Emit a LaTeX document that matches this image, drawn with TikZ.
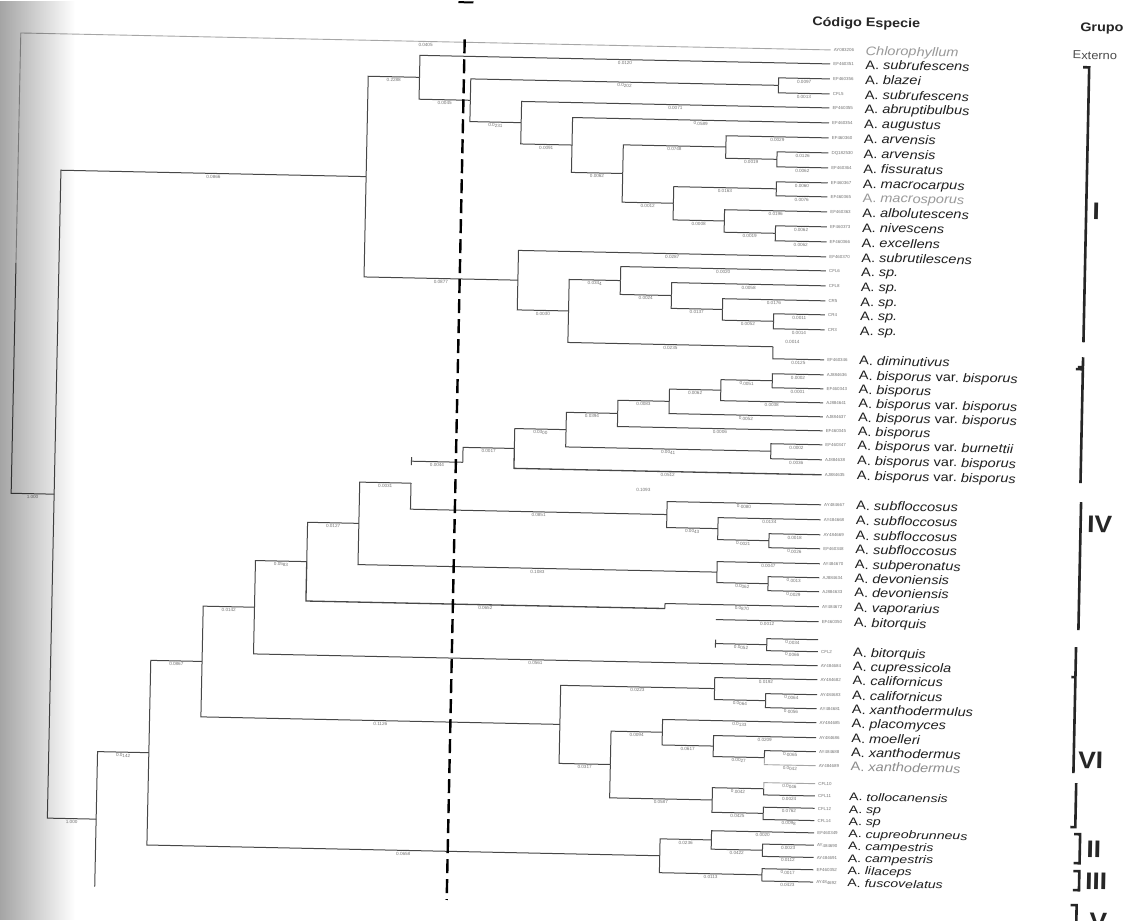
\documentclass[tikz,border=0pt]{standalone}
\usepackage{fontspec}
\setmainfont{Liberation Sans}
\usetikzlibrary{fadings}
\tikzset{
  br/.style={draw=black!72, line width=1pt},
  brl/.style={draw=black!35, line width=0.9pt},
  bl/.style={pos=0.75, below=0.8pt, font=\fontsize{4.6}{5}\selectfont, text=black!55, inner sep=0.4pt},
  bls/.style={pos=0.5, below=0.8pt, font=\fontsize{4.6}{5}\selectfont, text=black!55, inner sep=0.4pt},
  tiny/.style={font=\fontsize{4.6}{5}\selectfont, text=black!55, inner sep=0.4pt},
  code/.style={anchor=base west, font=\fontsize{4.4}{5}\selectfont, text=black!55, inner sep=0},
  spn/.style={anchor=base west, font=\fontsize{12.4}{14}\selectfont, xscale=1.17, text=black!88, inner sep=0},
  spns/.style={anchor=base west, font=\fontsize{11}{12}\selectfont, xscale=1.28, text=black!88, inner sep=0},
  hdr/.style={anchor=west, font=\bfseries\fontsize{12.5}{14}\selectfont, xscale=1.15, text=black!85, inner sep=0},
  ext/.style={anchor=west, font=\fontsize{11.5}{13}\selectfont, xscale=1.12, text=black!70, inner sep=0},
  grp/.style={font=\bfseries\fontsize{24}{26}\selectfont, xscale=1.1, text=black!85, inner sep=0},
  brk/.style={draw=black!85, line width=2.6pt},
  dashl/.style={draw=black, line width=2.4pt, dash pattern=on 14pt off 6pt},
}
\newcommand{\Ag}[1]{A.\ \textit{#1}}
\newcommand{\Agv}[2]{A.\ \textit{#1} var.\ \textit{#2}}
\newcommand{\myleaf}[4]{%
  \coordinate (#1) at (822,#2);
  \node[code] (#1c) at (825,{#2+1.6}) {#3};
  \node[spn] (#1s) at (857,{#2+4.4}) {#4};}
\newcommand{\myleafs}[4]{%
  \coordinate (#1) at (822,#2);
  \node[code] (#1c) at (825,{#2+1.6}) {#3};
  \node[spns] (#1s) at (856,{#2+4}) {#4};}
\newcommand{\mytip}[3]{%
  \coordinate (#1) at (822,#2);
  \node[code] (#1c) at (825,{#2+1.6}) {#3};}

\begin{document}
\begin{tikzpicture}[x=1pt,y=-1pt]
\useasboundingbox (0,0) rectangle (1131,920);
\fill[white] (0,0) rectangle (1131,920);

\begin{scope}[rotate around={-1.2:(830,460)}, transform shape]

% ---------------- headers ----------------
\node[hdr] (hcod) at (803,23) {Código Especie};
\node[hdr] (hgrp) at (1071,23) {Grupo};
\node[ext] (hext) at (1064,50) {Externo};

% ---------------- leaves ----------------
\myleaf{l1}{50}{AY083206}{\textcolor{black!40}{\textit{Chlorophyllum}}}
\myleaf{l2}{64}{EF460351}{\Ag{subrufescens}}
\myleaf{l3}{79}{EF460356}{\Ag{blazei}}
\myleaf{l4}{94}{CFL5}{\Ag{subrufescens}}
\myleaf{l5}{108}{EF460355}{\Ag{abruptibulbus}}
\myleaf{l6}{123}{EF460354}{\Ag{augustus}}
\myleaf{l7}{138}{EF460360}{\Ag{arvensis}}
\myleaf{l8}{153}{DQ182530}{\Ag{arvensis}}
\myleaf{l9}{168}{EF460364}{\Ag{fissuratus}}
\myleaf{l10}{183}{EF460367}{\Ag{macrocarpus}}
\myleaf{l11}{197}{EF460365}{\textcolor{black!40}{\Ag{macrosporus}}}
\myleaf{l12}{212}{EF460363}{\Ag{albolutescens}}
\myleaf{l13}{227}{EF460373}{\Ag{nivescens}}
\myleaf{l14}{242}{EF460366}{\Ag{excellens}}
\myleaf{l15}{257}{EF460370}{\Ag{subrutilescens}}
\myleaf{l16}{271}{CFL6}{\Ag{sp.}}
\myleaf{l17}{286}{CFL8}{\Ag{sp.}}
\myleaf{l18}{301}{CR5}{\Ag{sp.}}
\myleaf{l19}{315}{CR4}{\Ag{sp.}}
\myleaf{l20}{330}{CR3}{\Ag{sp.}}
\myleaf{l21}{360}{EF460346}{\Ag{diminutivus}}
\myleaf{l22}{375}{AJ884636}{\Agv{bisporus}{bisporus}}
\myleaf{l23}{389}{EF460343}{\Ag{bisporus}}
\myleaf{l24}{403}{AJ884641}{\Agv{bisporus}{bisporus}}
\myleaf{l25}{417}{AJ884637}{\Agv{bisporus}{bisporus}}
\myleaf{l26}{431}{EF460345}{\Ag{bisporus}}
\myleaf{l27}{445}{EF460347}{\Agv{bisporus}{burnettii}}
\myleaf{l28}{460}{AJ884638}{\Agv{bisporus}{bisporus}}
\myleaf{l29}{475}{AJ884635}{\Agv{bisporus}{bisporus}}
\myleaf{l30}{505}{AY484667}{\Ag{subfloccosus}}
\myleaf{l31}{520}{AY484668}{\Ag{subfloccosus}}
\myleaf{l32}{535}{AY484669}{\Ag{subfloccosus}}
\myleaf{l33}{549}{EF460348}{\Ag{subfloccosus}}
\myleaf{l34}{564}{AY484670}{\Ag{subperonatus}}
\myleaf{l35}{578}{AJ884634}{\Ag{devoniensis}}
\myleaf{l36}{592}{AJ884633}{\Ag{devoniensis}}
\myleaf{l37}{607}{AY484672}{\Ag{vaporarius}}
\myleaf{l38}{622}{EF460350}{\Ag{bitorquis}}
\mytip{lpt}{640}{}
\myleaf{l39}{652}{CFL2}{\Ag{bitorquis}}
\myleaf{l40}{666}{AY484684}{\Ag{cupressicola}}
\myleaf{l41}{680}{AY484682}{\Ag{californicus}}
\myleaf{l42}{695}{AY484683}{\Ag{californicus}}
\myleaf{l43}{709}{AY484681}{\Ag{xanthodermulus}}
\myleaf{l44}{723}{AY484685}{\Ag{placomyces}}
\myleaf{l45}{738}{AY484686}{\Ag{moelleri}}
\myleaf{l46}{752}{AY484688}{\Ag{xanthodermus}}
\myleaf{l47}{766}{AY484689}{\textcolor{black!45}{\Ag{xanthodermus}}}
\mytip{l48}{784}{CFL10}
\myleafs{l49}{796.3}{CFL11}{\Ag{tollocanensis}}
\myleafs{l50}{808.6}{CFL12}{\Ag{sp}}
\myleafs{l51}{820.9}{CFL14}{\Ag{sp}}
\myleafs{l52}{833.2}{EF460349}{\Ag{cupreobrunneus}}
\myleafs{l53}{845.5}{AY484690}{\Ag{campestris}}
\myleafs{l54}{857.8}{AY484691}{\Ag{campestris}}
\myleafs{l55}{870.1}{EF460352}{\Ag{lilaceps}}
\myleafs{l56}{882.4}{AY484692}{\Ag{fuscovelatus}}

% ---------------- internal nodes ----------------
\coordinate (root) at (12,280);
\coordinate (n62) at (55,510.45);
\coordinate (n365) at (360.3,186.4);
\coordinate (n422) at (411.6,86);
\coordinate (n472) at (462.9,107.9);
\coordinate (nab) at (770.7,86.5);
\coordinate (n522) at (514.2,129.2);
\coordinate (n572) at (565.5,150.5);
\coordinate (n622) at (616.8,177.9);
\coordinate (n725a) at (719.4,149.25);
\coordinate (n777b) at (770.7,160.5);
\coordinate (n672) at (668.1,206.6);
\coordinate (n777c) at (770.7,190);
\coordinate (n725b) at (719.4,223.25);
\coordinate (n777d) at (770.7,234.5);
\coordinate (n520) at (514.2,286.75);
\coordinate (n568) at (565.5,316.5);
\coordinate (n620) at (616.8,285);
\coordinate (n672s) at (668.1,298.9);
\coordinate (n722s) at (719.4,311.75);
\coordinate (n772s) at (770.7,322.5);
\coordinate (ndim) at (770.7,348);
% bisporus clade
\coordinate (n413b) at (411.6,470);
\coordinate (n464) at (462.9,470);
\coordinate (n516) at (514.2,455.1);
\coordinate (n567) at (565.5,435.2);
\coordinate (n617) at (616.8,417.9);
\coordinate (n668) at (668.1,404.75);
\coordinate (n720) at (719.4,392.5);
\coordinate (n772b) at (770.7,382);
\coordinate (n768b) at (770.7,452.5);
% lower part
\coordinate (n96) at (103.8,834.5);
\coordinate (n96b) at (103.8,902);
\coordinate (n150) at (155.1,766.95);
\coordinate (n203) at (206.4,674.6);
\coordinate (n257) at (257.7,619.3);
\coordinate (n308) at (309,572.6);
\coordinate (vk1) at (668.1,612);
\coordinate (n362) at (360.3,533.25);
\coordinate (k413) at (411.6,492);
\coordinate (n667) at (668.1,518);
\coordinate (n717) at (719.4,531);
\coordinate (n767f) at (770.7,542);
\coordinate (n715) at (719.4,574.5);
\coordinate (n767d) at (770.7,585);
\coordinate (fb) at (719.4,622);
\coordinate (pb) at (719.4,646);
\coordinate (n763p) at (770.7,646);
\coordinate (n560) at (565.5,730.05);
\coordinate (n713a) at (719.4,691);
\coordinate (n763c) at (770.7,702);
\coordinate (n609) at (616.8,769.1);
\coordinate (n661) at (668.1,735.75);
\coordinate (n713b) at (719.4,748.5);
\coordinate (n763e) at (770.7,759);
\coordinate (n713c) at (719.4,802.45);
\coordinate (n763f) at (770.7,790.15);
\coordinate (n763g) at (770.7,814.75);
\coordinate (n656) at (668.1,859.3);
\coordinate (n713d) at (719.4,842.4);
\coordinate (n763i) at (770.7,851.65);
\coordinate (n763h) at (770.7,876.25);

% ---------------- branches: upper part ----------------
\draw[brl] (root) |- (l1) node[bl]{0.0405};
\draw[br] (root) |- (n62) node[bl]{1.000};
\draw[br] (n62) |- (n365) node[bl]{0.0866};
\draw[br] (n62) |- (n96) node[bl]{1.000};
\draw[br] (n365) |- (n422) node[bl]{0.2288};
\draw[br] (n365) |- (n520) node[bl]{0.0877};
\draw[br] (n422) |- (l2) node[bl]{0.0120};
\draw[br] (n422) |- (n472) node[bl]{0.0045};
\draw[br] (n472) |- (nab) node[bl]{0.0202};
\draw[br] (n472) |- (n522) node[bl]{0.0231};
\draw[br] (nab) |- (l3) node[bl]{0.0097};
\draw[br] (nab) |- (l4) node[bl]{0.0013};
\draw[br] (n522) |- (l5) node[bl]{0.0071};
\draw[br] (n522) |- (n572) node[bl]{0.0091};
\draw[br] (n572) |- (l6) node[bl]{0.0589};
\draw[br] (n572) |- (n622) node[bl]{0.0062};
\draw[br] (n622) |- (n725a) node[bl]{0.0748};
\draw[br] (n622) |- (n672) node[bl]{0.0012};
\draw[br] (n725a) |- (l7) node[bl]{0.0029};
\draw[br] (n725a) |- (n777b) node[bl]{0.0019};
\draw[br] (n777b) |- (l8) node[bl]{0.0126};
\draw[br] (n777b) |- (l9) node[bl]{0.0062};
\draw[br] (n672) |- (n777c) node[bl]{0.0163};
\draw[br] (n672) |- (n725b) node[bl]{0.0008};
\draw[br] (n777c) |- (l10) node[bl]{0.0060};
\draw[br] (n777c) |- (l11) node[bl]{0.0076};
\draw[br] (n725b) |- (l12) node[bl]{0.0196};
\draw[br] (n725b) |- (n777d) node[bl]{0.0019};
\draw[br] (n777d) |- (l13) node[bl]{0.0062};
\draw[br] (n777d) |- (l14) node[bl]{0.0062};
\draw[br] (n520) |- (l15) node[bl]{0.0287};
\draw[br] (n520) |- (n568) node[bl]{0.0030};
\draw[br] (n568) |- (n620) node[bl]{0.0344};
\draw[br] (n568) |- (ndim) node[bl]{0.0235};
\draw[br] (ndim) |- (l21) node[bl]{0.0125};
\draw[br] (n620) |- (l16) node[bl]{0.0020};
\draw[br] (n620) |- (n672s) node[bl]{0.0024};
\draw[br] (n672s) |- (l17) node[bl]{0.0058};
\draw[br] (n672s) |- (n722s) node[bl]{0.0137};
\draw[br] (n722s) |- (l18) node[bl]{0.0176};
\draw[br] (n722s) |- (n772s) node[bl]{0.0052};
\draw[br] (n772s) |- (l19) node[bl]{0.0011};
\draw[br] (n772s) |- (l20) node[bl]{0.0014};

% ---------------- bisporus clade (detached) ----------------
\draw[br] (n413b) -- (n464) node[bls]{0.0044};
\draw[br] (n413b) ++(0,-4) -- ++(0,8);
\draw[br] (n464) |- (n516) node[bl]{0.0017};
\draw[br] (n516) |- (n567) node[bl]{0.0300};
\draw[br, line width=1.3pt] (n516) |- (l29) node[bl]{0.0512};
\draw[br] (n567) |- (n617) node[bl]{0.0394};
\draw[br] (n567) |- (n768b) node[bl]{0.0041};
\draw[br] (n617) |- (n668) node[bl]{0.0083};
\draw[br] (n617) |- (l26) node[bl]{0.0006};
\draw[br] (n668) |- (n720) node[bl]{0.0062};
\draw[br] (n668) |- (l25) node[bl]{0.0052};
\draw[br] (n720) |- (n772b) node[bl]{0.0051};
\draw[br] (n720) |- (l24) node[bl]{0.0038};
\draw[br] (n772b) |- (l22) node[bl]{0.0002};
\draw[br] (n772b) |- (l23) node[bl]{0.0001};
\draw[br] (n768b) |- (l27) node[bl]{0.0002};
\draw[br] (n768b) |- (l28) node[bl]{0.0036};

% ---------------- lower part ----------------
\draw[br] (n96) |- (n150) node[bl]{0.0142};
\draw[br] (n96) -- (n96b);
\draw[br] (n150) |- (n203) node[bl]{0.0867};
\draw[br] (n150) |- (n656) node[bl]{0.0658};
\draw[br] (n203) |- (n257) node[bl]{0.0142};
\draw[br] (n203) |- (n560) node[bl]{0.1126};
\draw[br] (n257) |- (n308) node[bl]{0.0583};
\draw[br] (n257) |- (l40) node[bl]{0.0561};
\draw[br] (n308) |- (n362) node[bl]{0.0127};
\draw[br, line width=1.3pt] (n308) |- (vk1) node[bl]{0.0652};
\draw[br] (vk1) |- (l37) node[bl]{0.0870};
\draw[br] (n362) |- (k413) node[bl]{0.0031};
\draw[br] (k413) |- (n667) node[bl]{0.0851};
\draw[br] (n362) |- (n715) node[bl]{0.1083};
\draw[br] (n667) |- (l30) node[bl]{0.0080};
\draw[br] (n667) |- (n717) node[bl]{0.0043};
\draw[br] (n717) |- (l31) node[bl]{0.0134};
\draw[br] (n717) |- (n767f) node[bl]{0.0021};
\draw[br] (n767f) |- (l32) node[bl]{0.0018};
\draw[br] (n767f) |- (l33) node[bl]{0.0026};
\draw[br] (n715) |- (l34) node[bl]{0.0047};
\draw[br] (n715) |- (n767d) node[bl]{0.0062};
\draw[br] (n767d) |- (l35) node[bl]{0.0013};
\draw[br] (n767d) |- (l36) node[bl]{0.0029};
\draw[br] (fb) -- (l38) node[bls]{0.0012};
\draw[br] (pb) -- (n763p) node[bls]{0.0052};
\draw[br] (pb) ++(0,-4) -- ++(0,8);
\draw[br] (n763p) |- (lpt) node[bl]{0.0034};
\draw[br] (n763p) |- (l39) node[bl]{0.0066};
\draw[br] (n560) |- (n713a) node[bl]{0.0223};
\draw[br] (n560) |- (n609) node[bl]{0.0317};
\draw[br] (n713a) |- (l41) node[bl]{0.0192};
\draw[br] (n713a) |- (n763c) node[bl]{0.0064};
\draw[br] (n763c) |- (l42) node[bl]{0.0064};
\draw[br] (n763c) |- (l43) node[bl]{0.0056};
\draw[br] (n609) |- (n661) node[bl]{0.0094};
\draw[br] (n609) |- (n713c) node[bl]{0.0587};
\draw[br] (n661) |- (l44) node[bl]{0.0133};
\draw[br] (n661) |- (n713b) node[bl]{0.0617};
\draw[br] (n713b) |- (l45) node[bl]{0.0209};
\draw[br] (n713b) |- (n763e) node[bl]{0.0027};
\draw[br] (n763e) |- (l46) node[bl]{0.0065};
\draw[brl] (n763e) |- (l47) node[bl]{0.0042};
\draw[br] (n713c) |- (n763f) node[bl]{0.0042};
\draw[br] (n713c) |- (n763g) node[bl]{0.0425};
\draw[brl] (n763f) |- (l48) node[bl]{0.0046};
\draw[br] (n763f) |- (l49) node[bl]{0.0024};
\draw[br] (n763g) |- (l50) node[bl]{0.0762};
\draw[br] (n763g) |- (l51) node[bl]{0.0098};
\draw[br] (n656) |- (n713d) node[bl]{0.0236};
\draw[br] (n656) |- (n763h) node[bl]{0.0113};
\draw[br] (n713d) |- (l52) node[bl]{0.0020};
\draw[br] (n713d) |- (n763i) node[bl]{0.0422};
\draw[br] (n763i) |- (l53) node[bl]{0.0023};
\draw[br] (n763i) |- (l54) node[bl]{0.0112};
\draw[br] (n763h) |- (l55) node[bl]{0.0017};
\draw[br] (n763h) |- (l56) node[bl]{0.0423};

% stray branch labels
\node[tiny] (xlab1) at (790,343) {0.0014};
\node[tiny] (xlab2) at (644,494) {0.1093};

% ---------------- dashed cut line ----------------
\coordinate (dT) at (456,47);
\coordinate (dB) at (456,908);
\draw[dashl] (dT) -- (dB);
\coordinate (mA) at (449,10);
\coordinate (mB) at (464,10);
\draw[line width=2pt] (mA) -- (mB);

% ---------------- group brackets ----------------
\coordinate (bIa) at (1081,62);   \coordinate (bIb) at (1081,337);
\draw[brk] ([xshift=-6pt]bIa) -- (bIa) -- (bIb);
\node[grp] (gI) at (1091,206) {I};
\coordinate (bDa) at (1081,352);  \coordinate (bDb) at (1081,362);
\draw[brk] (bDa) -- (bDb) -- ([xshift=-5pt]bDb);
\coordinate (bBa) at (1081,364);  \coordinate (bBb) at (1081,478);
\draw[brk] ([xshift=-7pt]bBa) -- (bBa) -- (bBb);
\coordinate (bIVa) at (1082,497); \coordinate (bIVb) at (1082,625);
\draw[brk] (bIVa) -- (bIVb);
\node[grp] (gIV) at (1101,519) {IV};
\coordinate (bVIa) at (1080,642); \coordinate (bVIb) at (1080,768);
\draw[brk] (bVIa) -- (bVIb);
\coordinate (bVIn) at (1080,672);
\draw[brk] (bVIn) -- ([xshift=-4pt]bVIn);
\node[grp] (gVI) at (1097,755) {VI};
\coordinate (bTa) at (1083,778);  \coordinate (bTb) at (1083,822);
\draw[brk] (bTa) -- (bTb) -- ([xshift=-5pt]bTb);
\coordinate (bIIa) at (1088,829); \coordinate (bIIb) at (1088,858);
\draw[brk] ([xshift=-6pt]bIIa) -- (bIIa) -- (bIIb) -- ([xshift=-6pt]bIIb);
\node[grp] (gII) at (1102,844) {II};
\coordinate (bIIIa) at (1088,866); \coordinate (bIIIb) at (1088,885);
\draw[brk] ([xshift=-6pt]bIIIa) -- (bIIIa) -- (bIIIb) -- ([xshift=-6pt]bIIIb);
\node[grp] (gIII) at (1105,876) {III};
\coordinate (bVa) at (1086,900); \coordinate (bVb) at (1086,930);
\draw[brk] ([xshift=-6pt]bVa) -- (bVa) -- (bVb);
\node[grp] (gV) at (1108,916) {V};

\end{scope}

% ---------------- binding shadow at the left ----------------
\fill[black, fill opacity=0.45, path fading=east] (-20,0) rectangle (75,920);
\end{tikzpicture}
\end{document}
